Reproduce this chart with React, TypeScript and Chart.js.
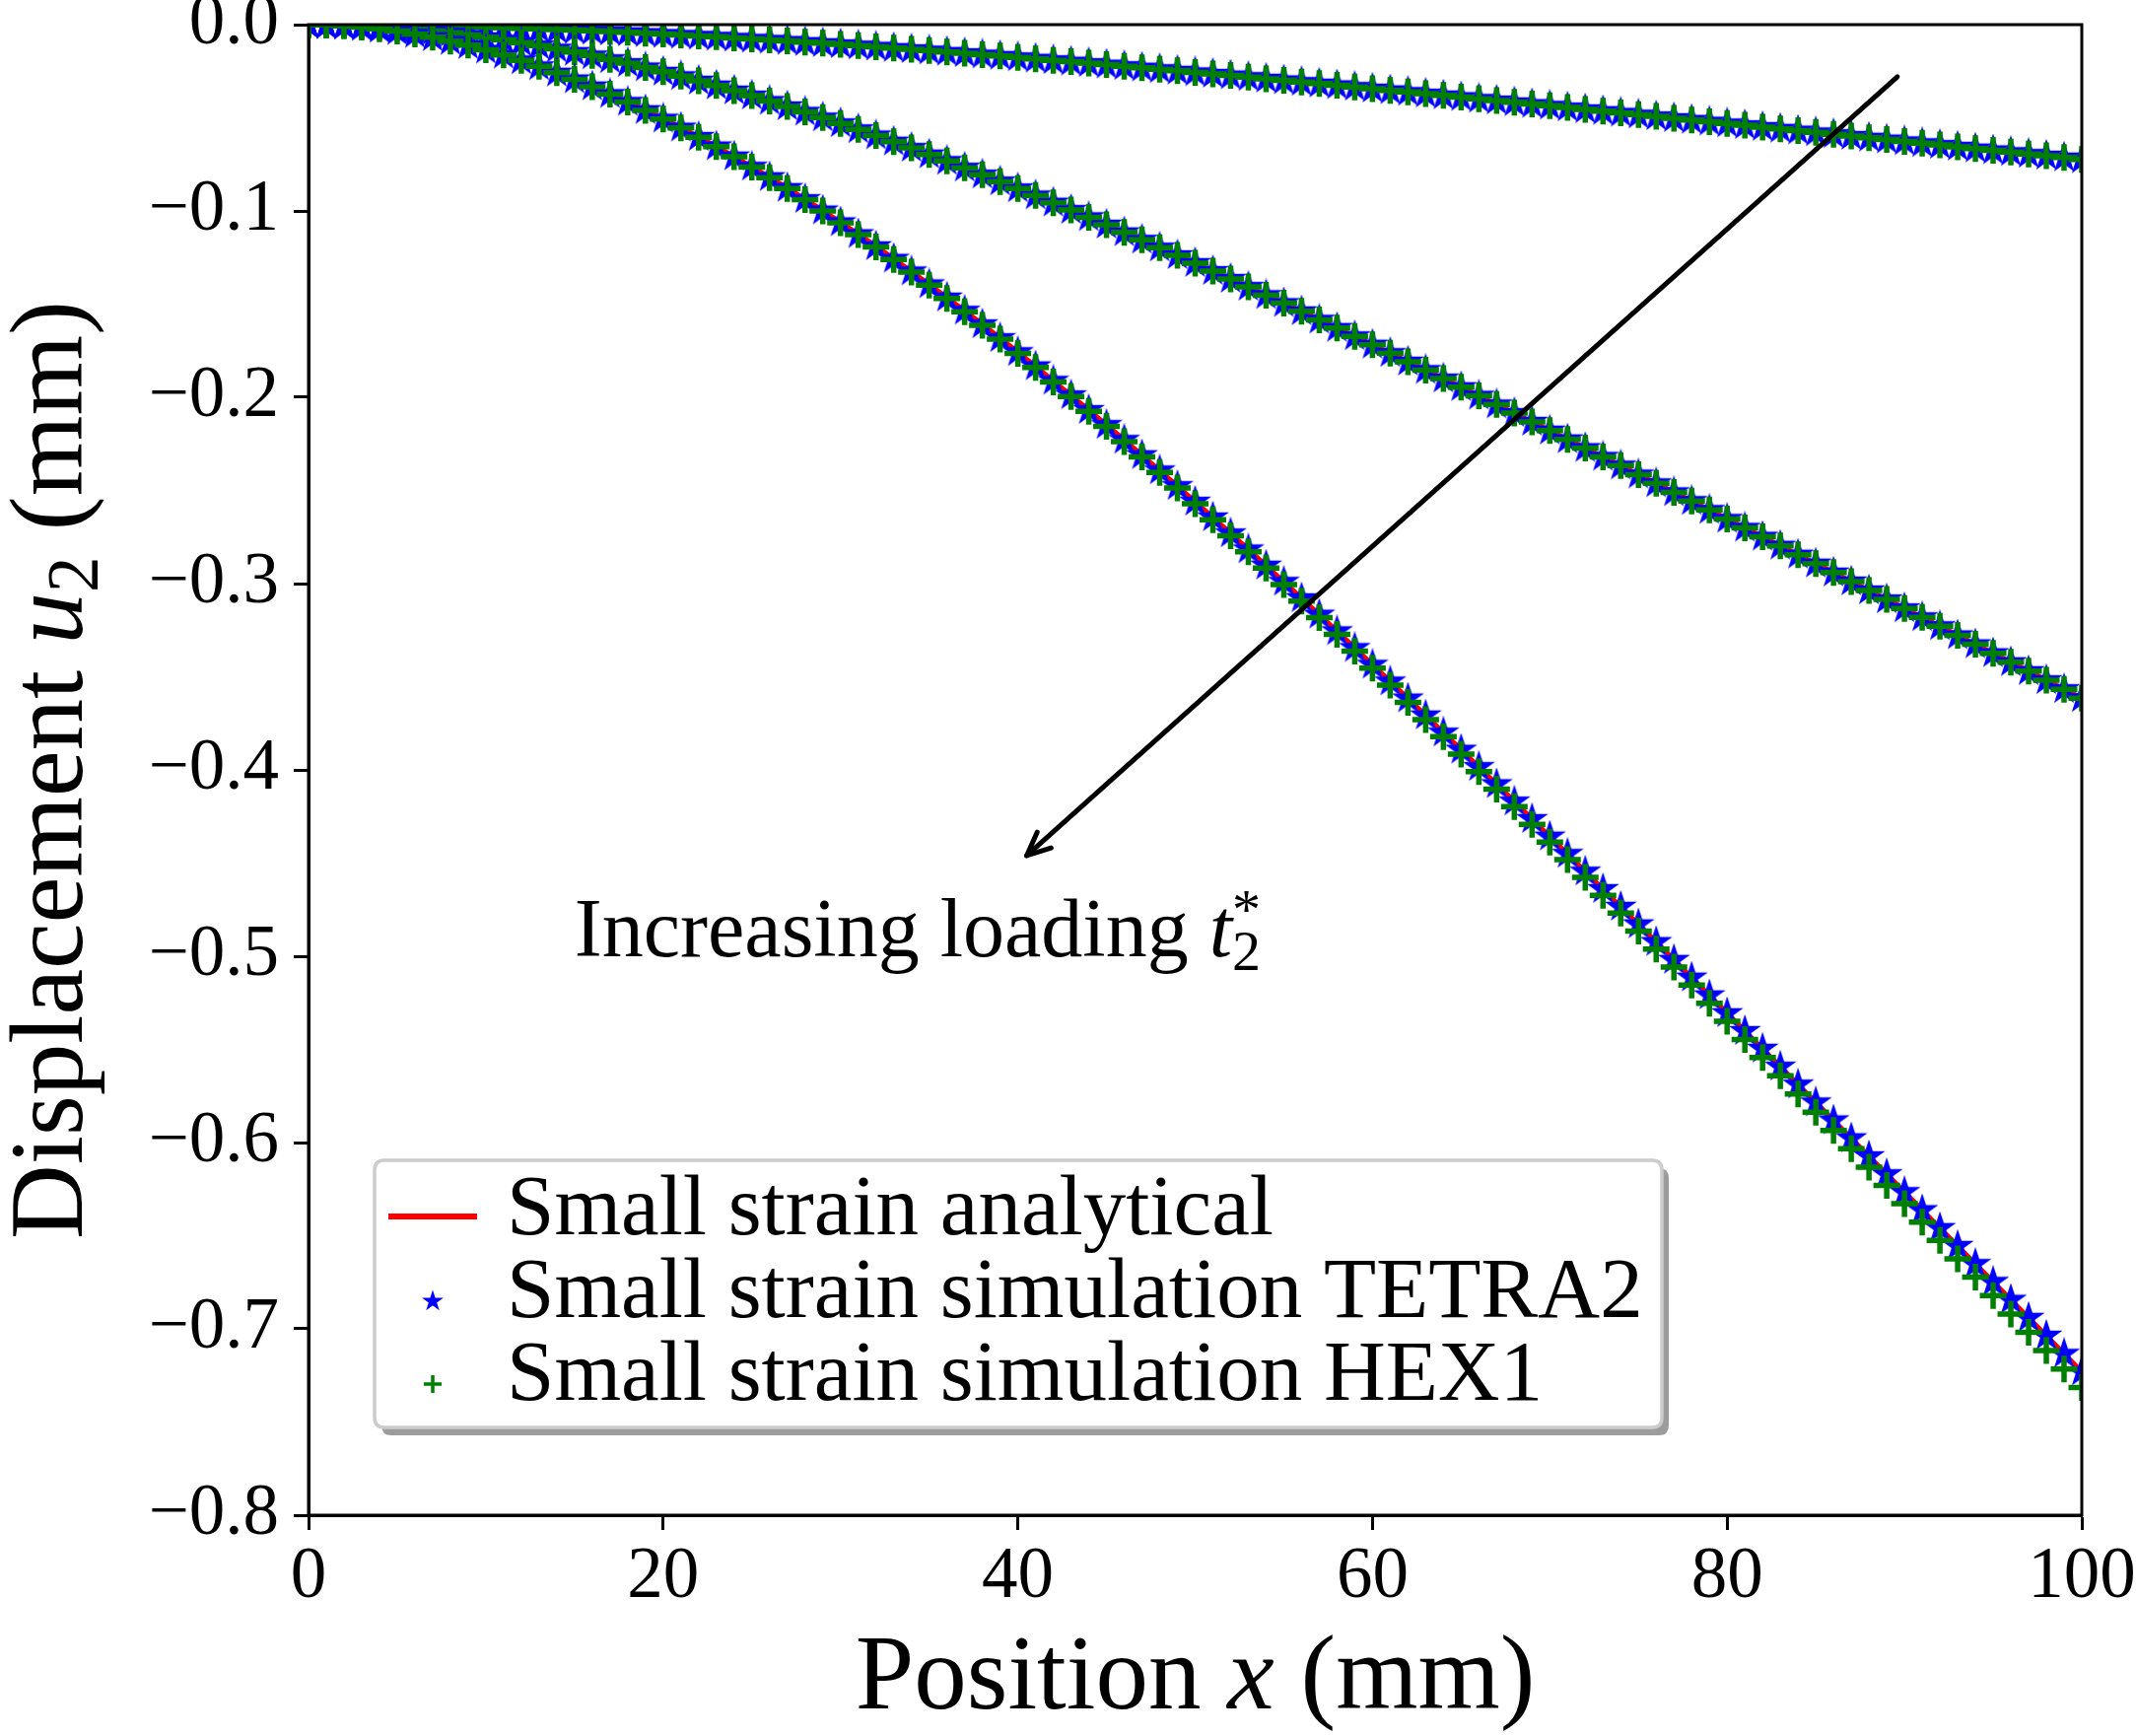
import React, { useEffect, useRef } from "react";
import { Chart, registerables } from "chart.js";

Chart.register(...registerables);

const WIDTH = 2167;
const HEIGHT = 1761;
const FONT = '"Liberation Serif", "Times New Roman", serif';

// ---------------- data ----------------
const positions = [
  0, 1, 2, 3, 4, 5, 6, 7, 8, 9,
  10, 11, 12, 13, 14, 15, 16, 17, 18, 19,
  20, 21, 22, 23, 24, 25, 26, 27, 28, 29,
  30, 31, 32, 33, 34, 35, 36, 37, 38, 39,
  40, 41, 42, 43, 44, 45, 46, 47, 48, 49,
  50, 51, 52, 53, 54, 55, 56, 57, 58, 59,
  60, 61, 62, 63, 64, 65, 66, 67, 68, 69,
  70, 71, 72, 73, 74, 75, 76, 77, 78, 79,
  80, 81, 82, 83, 84, 85, 86, 87, 88, 89,
  90, 91, 92, 93, 94, 95, 96, 97, 98, 99,
  100,
];

// smallest loading
const loadSmall = [
  0, -0.00001, -0.00006, -0.00013, -0.00023, -0.00035, -0.0005, -0.00068, -0.00088, -0.0011,
  -0.00135, -0.00162, -0.00192, -0.00224, -0.00258, -0.00294, -0.00332, -0.00373, -0.00415, -0.00459,
  -0.00505, -0.00553, -0.00603, -0.00654, -0.00708, -0.00763, -0.00819, -0.00877, -0.00937, -0.00998,
  -0.01061, -0.01125, -0.0119, -0.01257, -0.01325, -0.01394, -0.01465, -0.01536, -0.01609, -0.01683,
  -0.01758, -0.01834, -0.01912, -0.0199, -0.02069, -0.02149, -0.02229, -0.02311, -0.02393, -0.02477,
  -0.02561, -0.02645, -0.02731, -0.02817, -0.02904, -0.02991, -0.03079, -0.03167, -0.03256, -0.03346,
  -0.03436, -0.03526, -0.03617, -0.03708, -0.038, -0.03892, -0.03985, -0.04077, -0.0417, -0.04264,
  -0.04358, -0.04451, -0.04546, -0.0464, -0.04735, -0.04829, -0.04924, -0.0502, -0.05115, -0.0521,
  -0.05306, -0.05402, -0.05497, -0.05593, -0.05689, -0.05785, -0.05881, -0.05977, -0.06074, -0.0617,
  -0.06266, -0.06363, -0.06459, -0.06555, -0.06652, -0.06748, -0.06844, -0.06941, -0.07037, -0.07134,
  -0.0723,
];

// medium loading
const loadMedium = [
  0, -0.0001, -0.0003, -0.0006, -0.0011, -0.0017, -0.0025, -0.0034, -0.0044, -0.0055,
  -0.0068, -0.0081, -0.0096, -0.0112, -0.0129, -0.0147, -0.0166, -0.0186, -0.0207, -0.023,
  -0.0253, -0.0277, -0.0301, -0.0327, -0.0354, -0.0381, -0.041, -0.0439, -0.0468, -0.0499,
  -0.053, -0.0562, -0.0595, -0.0628, -0.0662, -0.0697, -0.0732, -0.0768, -0.0805, -0.0842,
  -0.0879, -0.0917, -0.0956, -0.0995, -0.1034, -0.1074, -0.1115, -0.1155, -0.1197, -0.1238,
  -0.128, -0.1323, -0.1365, -0.1408, -0.1452, -0.1495, -0.1539, -0.1584, -0.1628, -0.1673,
  -0.1718, -0.1763, -0.1809, -0.1854, -0.19, -0.1946, -0.1992, -0.2039, -0.2085, -0.2132,
  -0.2179, -0.2226, -0.2273, -0.232, -0.2367, -0.2415, -0.2462, -0.251, -0.2557, -0.2605,
  -0.2653, -0.2701, -0.2749, -0.2797, -0.2845, -0.2893, -0.2941, -0.2989, -0.3037, -0.3085,
  -0.3133, -0.3181, -0.3229, -0.3278, -0.3326, -0.3374, -0.3422, -0.347, -0.3519, -0.3567,
  -0.3615,
];

// largest loading (analytical and TETRA2)
const loadLarge = [
  0, -0.0001, -0.0006, -0.0013, -0.0023, -0.0035, -0.005, -0.0068, -0.0088, -0.011,
  -0.0135, -0.0162, -0.0192, -0.0224, -0.0258, -0.0294, -0.0332, -0.0373, -0.0415, -0.0459,
  -0.0505, -0.0553, -0.0603, -0.0654, -0.0708, -0.0763, -0.0819, -0.0877, -0.0937, -0.0998,
  -0.1061, -0.1125, -0.119, -0.1257, -0.1325, -0.1394, -0.1465, -0.1536, -0.1609, -0.1683,
  -0.1758, -0.1834, -0.1912, -0.199, -0.2069, -0.2149, -0.2229, -0.2311, -0.2393, -0.2477,
  -0.2561, -0.2645, -0.2731, -0.2817, -0.2904, -0.2991, -0.3079, -0.3167, -0.3256, -0.3346,
  -0.3436, -0.3526, -0.3617, -0.3708, -0.38, -0.3892, -0.3985, -0.4077, -0.417, -0.4264,
  -0.4358, -0.4451, -0.4546, -0.464, -0.4735, -0.4829, -0.4924, -0.502, -0.5115, -0.521,
  -0.5306, -0.5402, -0.5497, -0.5593, -0.5689, -0.5785, -0.5881, -0.5977, -0.6074, -0.617,
  -0.6266, -0.6363, -0.6459, -0.6555, -0.6652, -0.6748, -0.6844, -0.6941, -0.7037, -0.7134,
  -0.723,
];

// largest loading, HEX1 simulation (slightly lower near the free end)
const hexLarge = [
  0, -0.0001, -0.0006, -0.0013, -0.0023, -0.0035, -0.005, -0.0068, -0.0088, -0.011,
  -0.0135, -0.0163, -0.0192, -0.0224, -0.0258, -0.0294, -0.0333, -0.0373, -0.0415, -0.046,
  -0.0506, -0.0554, -0.0604, -0.0655, -0.0709, -0.0764, -0.0821, -0.0879, -0.0939, -0.1,
  -0.1063, -0.1127, -0.1193, -0.126, -0.1328, -0.1398, -0.1469, -0.1541, -0.1614, -0.1688,
  -0.1764, -0.184, -0.1918, -0.1996, -0.2076, -0.2156, -0.2238, -0.232, -0.2403, -0.2487,
  -0.2571, -0.2657, -0.2743, -0.2829, -0.2917, -0.3005, -0.3094, -0.3183, -0.3273, -0.3363,
  -0.3454, -0.3545, -0.3637, -0.373, -0.3822, -0.3916, -0.4009, -0.4103, -0.4197, -0.4292,
  -0.4387, -0.4482, -0.4577, -0.4673, -0.4769, -0.4865, -0.4962, -0.5058, -0.5155, -0.5252,
  -0.5349, -0.5447, -0.5544, -0.5642, -0.574, -0.5837, -0.5935, -0.6033, -0.6132, -0.623,
  -0.6328, -0.6427, -0.6525, -0.6624, -0.6722, -0.6821, -0.692, -0.7018, -0.7117, -0.7216,
  -0.7315,
];

const analyticalCurves = [loadSmall, loadMedium, loadLarge];
const tetraCurves = [loadSmall, loadMedium, loadLarge];
const hexCurves = [loadSmall, loadMedium, hexLarge];

const seriesLabels = [
  "Small strain analytical",
  "Small strain simulation TETRA2",
  "Small strain simulation HEX1",
];

const xTickValues = [0, 20, 40, 60, 80, 100];
const xTickLabels = ["0", "20", "40", "60", "80", "100"];
const yTickValues = [0, -0.1, -0.2, -0.3, -0.4, -0.5, -0.6, -0.7, -0.8];
const yTickLabels = [
  "0.0",
  "\u22120.1",
  "\u22120.2",
  "\u22120.3",
  "\u22120.4",
  "\u22120.5",
  "\u22120.6",
  "\u22120.7",
  "\u22120.8",
];

// annotation (data coordinates)
const arrowFrom = [89.6, -0.028];
const arrowTo = [40.5, -0.446];
const annotationAt = [15, -0.5];
const annotationText = "Increasing loading ";

// ---------------- styles ----------------
const RED = "#ff0000";
const BLUE = "#0000ff";
const GREEN = "#008000";

function makeStar(R: number, color: string, lw: number) {
  const size = Math.ceil(2 * R + lw + 4);
  const c = document.createElement("canvas");
  c.width = size;
  c.height = size;
  const g = c.getContext("2d")!;
  const cx = size / 2;
  const cy = size / 2;
  g.beginPath();
  for (let i = 0; i < 10; i++) {
    const r = i % 2 === 0 ? R : R * 0.381966;
    const a = -Math.PI / 2 + (i * Math.PI) / 5;
    const px = cx + r * Math.cos(a);
    const py = cy + r * Math.sin(a);
    if (i === 0) g.moveTo(px, py);
    else g.lineTo(px, py);
  }
  g.closePath();
  g.fillStyle = color;
  g.fill();
  g.strokeStyle = color;
  g.lineWidth = lw;
  g.lineJoin = "miter";
  g.stroke();
  return c;
}

type Run = { text: string; font: string; dy?: number; stackWith?: Run };

function drawRuns(ctx: CanvasRenderingContext2D, runs: Run[], x: number, y: number, measureOnly = false) {
  let cx = x;
  for (const r of runs) {
    ctx.font = r.font;
    const w = ctx.measureText(r.text).width;
    let w2 = 0;
    if (!measureOnly) ctx.fillText(r.text, cx, y + (r.dy || 0));
    if (r.stackWith) {
      ctx.font = r.stackWith.font;
      w2 = ctx.measureText(r.stackWith.text).width;
      if (!measureOnly) ctx.fillText(r.stackWith.text, cx, y + (r.stackWith.dy || 0));
    }
    cx += Math.max(w, w2);
  }
  return cx - x;
}

function roundRect(ctx: CanvasRenderingContext2D, x: number, y: number, w: number, h: number, r: number) {
  ctx.beginPath();
  ctx.moveTo(x + r, y);
  ctx.lineTo(x + w - r, y);
  ctx.quadraticCurveTo(x + w, y, x + w, y + r);
  ctx.lineTo(x + w, y + h - r);
  ctx.quadraticCurveTo(x + w, y + h, x + w - r, y + h);
  ctx.lineTo(x + r, y + h);
  ctx.quadraticCurveTo(x, y + h, x, y + h - r);
  ctx.lineTo(x, y + r);
  ctx.quadraticCurveTo(x, y, x + r, y);
  ctx.closePath();
}

export default function App() {
  const ref = useRef<HTMLCanvasElement | null>(null);

  useEffect(() => {
    document.body.style.margin = "0";
    document.body.style.overflow = "hidden";
    const canvas = ref.current;
    if (!canvas) return;

    const bigStar = makeStar(14, BLUE, 2);
    const smallStar = makeStar(9, BLUE, 1.5);

    const datasets: any[] = [];
    let drawIndex = 0;
    for (let i = 0; i < 3; i++) {
      datasets.push({
        label: seriesLabels[0],
        data: positions.map((x, k) => ({ x, y: analyticalCurves[i][k] })),
        borderColor: RED,
        backgroundColor: RED,
        borderWidth: 5,
        pointRadius: 0,
        showLine: true,
        tension: 0,
        clip: 0,
        order: 100 - drawIndex++,
      });
      datasets.push({
        label: seriesLabels[1],
        data: positions.map((x, k) => ({ x, y: tetraCurves[i][k] })),
        showLine: false,
        pointStyle: bigStar,
        pointRadius: 13,
        pointBackgroundColor: BLUE,
        pointBorderColor: BLUE,
        clip: 0,
        order: 100 - drawIndex++,
      });
      datasets.push({
        label: seriesLabels[2],
        data: positions.map((x, k) => ({ x, y: hexCurves[i][k] })),
        showLine: false,
        pointStyle: "cross",
        pointRadius: 13.5,
        pointBorderWidth: 5.5,
        pointBorderColor: GREEN,
        pointBackgroundColor: GREEN,
        clip: 0,
        order: 100 - drawIndex++,
      });
    }

    const decor = {
      id: "decor",
      afterDatasetsDraw(chart: any) {
        const { ctx, chartArea: ca, scales } = chart;
        const xs = scales.x;
        const ys = scales.y;
        ctx.save();

        // frame (spines)
        ctx.strokeStyle = "#000";
        ctx.lineWidth = 3;
        ctx.strokeRect(ca.left, ca.top, ca.right - ca.left, ca.bottom - ca.top);

        // arrow
        const x0 = xs.getPixelForValue(arrowFrom[0]);
        const y0 = ys.getPixelForValue(arrowFrom[1]);
        const x1 = xs.getPixelForValue(arrowTo[0]);
        const y1 = ys.getPixelForValue(arrowTo[1]);
        ctx.lineWidth = 5;
        ctx.lineCap = "round";
        ctx.lineJoin = "round";
        ctx.beginPath();
        ctx.moveTo(x0, y0);
        ctx.lineTo(x1, y1);
        ctx.stroke();
        const ang = Math.atan2(y1 - y0, x1 - x0);
        const hl = 26;
        const ha = 0.42;
        ctx.beginPath();
        ctx.moveTo(x1 - hl * Math.cos(ang - ha), y1 - hl * Math.sin(ang - ha));
        ctx.lineTo(x1, y1);
        ctx.lineTo(x1 - hl * Math.cos(ang + ha), y1 - hl * Math.sin(ang + ha));
        ctx.stroke();

        // annotation text
        ctx.fillStyle = "#000";
        ctx.textBaseline = "alphabetic";
        ctx.textAlign = "left";
        const ax = xs.getPixelForValue(annotationAt[0]);
        const ay = ys.getPixelForValue(annotationAt[1]);
        drawRuns(
          ctx,
          [
            { text: annotationText, font: `84px ${FONT}` },
            { text: "t", font: `italic 84px ${FONT}` },
            {
              text: "2",
              font: `58px ${FONT}`,
              dy: 14,
              stackWith: { text: "*", font: `58px ${FONT}`, dy: -28 },
            },
          ],
          ax,
          ay
        );

        // legend
        const lx = ca.left + 67;
        const ly = ca.top + 1152;
        const lw = 1306;
        const lh = 271;
        ctx.fillStyle = "#9c9c9c";
        roundRect(ctx, lx + 7, ly + 8, lw, lh, 10);
        ctx.fill();
        ctx.fillStyle = "#ffffff";
        roundRect(ctx, lx, ly, lw, lh, 10);
        ctx.fill();
        ctx.strokeStyle = "#cccccc";
        ctx.lineWidth = 3.5;
        ctx.stroke();

        const rowBase = [ly + 75, ly + 159, ly + 243];
        const handleX0 = lx + 14;
        const handleX1 = lx + 104;
        const handleCx = (handleX0 + handleX1) / 2;
        // analytical: line
        let hy = rowBase[0] - 18;
        ctx.strokeStyle = RED;
        ctx.lineWidth = 6;
        ctx.lineCap = "butt";
        ctx.beginPath();
        ctx.moveTo(handleX0, hy);
        ctx.lineTo(handleX1, hy);
        ctx.stroke();
        // TETRA2: star
        hy = rowBase[1] - 16;
        ctx.drawImage(smallStar, handleCx - smallStar.width / 2, hy - smallStar.height / 2);
        // HEX1: plus
        hy = rowBase[2] - 16;
        ctx.strokeStyle = GREEN;
        ctx.lineWidth = 3.5;
        ctx.beginPath();
        ctx.moveTo(handleCx - 9, hy);
        ctx.lineTo(handleCx + 9, hy);
        ctx.moveTo(handleCx, hy - 9);
        ctx.lineTo(handleCx, hy + 9);
        ctx.stroke();

        ctx.fillStyle = "#000";
        ctx.font = `87px ${FONT}`;
        for (let i = 0; i < 3; i++) {
          ctx.fillText(seriesLabels[i], lx + 134, rowBase[i]);
        }

        // x-axis title
        const xRuns: Run[] = [
          { text: "Position ", font: `107px ${FONT}` },
          { text: "x", font: `italic 107px ${FONT}` },
          { text: " (mm)", font: `107px ${FONT}` },
        ];
        const xw = drawRuns(ctx, xRuns, 0, 0, true);
        drawRuns(ctx, xRuns, (ca.left + ca.right) / 2 - xw / 2, 1733);

        // y-axis title
        const yRuns: Run[] = [
          { text: "Displacement ", font: `105px ${FONT}` },
          { text: "u", font: `italic 105px ${FONT}` },
          { text: "2", font: `73px ${FONT}`, dy: 16 },
          { text: " (mm)", font: `105px ${FONT}` },
        ];
        const yw = drawRuns(ctx, yRuns, 0, 0, true);
        ctx.translate(83, (ca.top + ca.bottom) / 2);
        ctx.rotate(-Math.PI / 2);
        drawRuns(ctx, yRuns, -yw / 2, 0);

        ctx.restore();
      },
    };

    const tickFont = { family: FONT, size: 73, lineHeight: 1 };

    const chart = new Chart(canvas, {
      type: "line",
      data: { datasets },
      options: {
        responsive: false,
        maintainAspectRatio: false,
        devicePixelRatio: 1,
        animation: false,
        events: [],
        layout: { padding: { left: 0, right: 55, top: 25, bottom: 0 } },
        plugins: {
          legend: { display: false },
          tooltip: { enabled: false },
          title: { display: false },
        },
        scales: {
          x: {
            type: "linear",
            min: 0,
            max: 100,
            afterBuildTicks: (s: any) => {
              s.ticks = xTickValues.map((v) => ({ value: v }));
            },
            afterFit: (s: any) => {
              s.height = 224;
              s.paddingLeft = 0;
              s.paddingRight = 0;
              s.paddingTop = 0;
              s.paddingBottom = 0;
            },
            ticks: {
              autoSkip: false,
              maxRotation: 0,
              minRotation: 0,
              padding: 12,
              color: "#000",
              font: tickFont,
              callback: (v: any) => {
                const i = xTickValues.findIndex((t) => Math.abs(t - Number(v)) < 1e-9);
                return i >= 0 ? xTickLabels[i] : "";
              },
            },
            grid: {
              display: true,
              drawOnChartArea: false,
              drawTicks: true,
              tickLength: 15,
              tickWidth: 3,
              tickColor: "#000",
              color: "#000",
            },
            border: { display: true, color: "#000", width: 3 },
          },
          y: {
            type: "linear",
            min: -0.8,
            max: 0,
            afterBuildTicks: (s: any) => {
              s.ticks = yTickValues.slice().reverse().map((v) => ({ value: v }));
            },
            afterFit: (s: any) => {
              s.width = 313;
              s.paddingLeft = 0;
              s.paddingRight = 0;
              s.paddingTop = 0;
              s.paddingBottom = 0;
            },
            ticks: {
              autoSkip: false,
              padding: 15,
              color: "#000",
              font: tickFont,
              callback: (v: any) => {
                const i = yTickValues.findIndex((t) => Math.abs(t - Number(v)) < 1e-9);
                return i >= 0 ? yTickLabels[i] : "";
              },
            },
            grid: {
              display: true,
              drawOnChartArea: false,
              drawTicks: true,
              tickLength: 15,
              tickWidth: 3,
              tickColor: "#000",
              color: "#000",
            },
            border: { display: true, color: "#000", width: 3 },
          },
        },
      },
      plugins: [decor],
    } as any);

    let alive = true;
    const fonts = (document as any).fonts;
    if (fonts && fonts.load) {
      Promise.all([
        fonts.load(`70px "Liberation Serif"`),
        fonts.load(`italic 70px "Liberation Serif"`),
      ])
        .then(() => {
          if (alive) chart.update();
        })
        .catch(() => {});
    }

    return () => {
      alive = false;
      chart.destroy();
    };
  }, []);

  return (
    <div style={{ width: WIDTH, height: HEIGHT, background: "#fff" }}>
      <canvas ref={ref} width={WIDTH} height={HEIGHT} style={{ display: "block" }} />
    </div>
  );
}
